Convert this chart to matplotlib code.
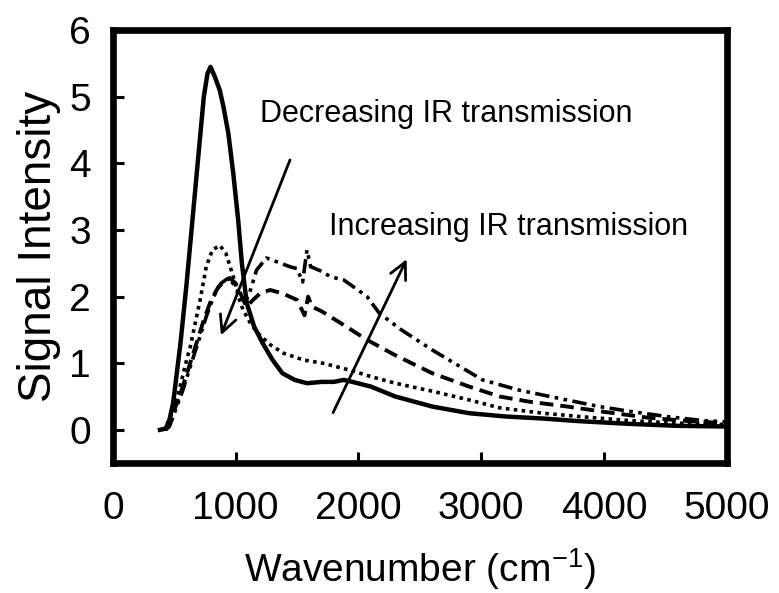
import matplotlib
matplotlib.use("Agg")
import matplotlib.pyplot as plt

plt.rcParams["font.family"] = ["Liberation Sans", "DejaVu Sans"]

# ── 데이터 ──────────────────────────────────────
x_solid = [383, 430, 460, 490, 550, 600, 650, 700, 740, 770, 795, 830, 870, 900, 940,
           980, 1020, 1050, 1090, 1150, 1220, 1300, 1380, 1480, 1580, 1700, 1800, 1880,
           1950, 2100, 2300, 2600, 2900, 3200, 3500, 3800, 4200, 4600, 5000]
y_solid = [0, 0.02, 0.15, 0.4, 1.3, 2.2, 3.2, 4.2, 5.0, 5.35, 5.45, 5.3, 5.1, 4.85, 4.45,
           3.85, 3.15, 2.5, 1.9, 1.55, 1.3, 1.05, 0.85, 0.75, 0.7, 0.72, 0.72, 0.75,
           0.72, 0.65, 0.5, 0.35, 0.25, 0.2, 0.17, 0.13, 0.09, 0.06, 0.05]

x_dot = [400, 430, 470, 520, 560, 600, 630, 670, 710, 760, 810, 870, 920, 980, 1030,
         1060, 1120, 1180, 1280, 1390, 1550, 1710, 1860, 1960, 2100, 2300, 2600, 2900,
         3150, 3500, 3800, 4200, 4600, 5000]
y_dot = [0, 0.03, 0.2, 0.45, 0.75, 1.05, 1.25, 1.6, 1.95, 2.45, 2.7, 2.77, 2.65, 2.3, 1.95,
         1.8, 1.6, 1.45, 1.28, 1.15, 1.05, 1.0, 0.93, 0.88, 0.8, 0.7, 0.58, 0.45,
         0.33, 0.25, 0.2, 0.14, 0.1, 0.08]

x_dash = [420, 450, 500, 560, 620, 680, 740, 800, 860, 950, 1000, 1050, 1090, 1140, 1200,
          1280, 1380, 1500, 1560, 1590, 1620, 1700, 1770, 1900, 2070, 2300, 2600, 2900,
          3150, 3400, 3700, 4000, 4370, 4700, 5000]
y_dash = [0, 0.05, 0.3, 0.6, 0.95, 1.3, 1.65, 1.95, 2.15, 2.28, 2.2, 2.0, 1.85, 1.95, 2.05,
          2.1, 2.05, 1.95, 1.72, 2.0, 1.85, 1.78, 1.7, 1.55, 1.35, 1.12, 0.85, 0.65,
          0.5, 0.42, 0.35, 0.27, 0.18, 0.13, 0.1]

x_dd = [430, 460, 510, 570, 630, 700, 760, 820, 880, 940, 1000, 1075, 1120, 1170, 1250,
        1340, 1440, 1500, 1545, 1580, 1610, 1700, 1770, 1880, 1980, 2070, 2170, 2350,
        2600, 2800, 3010, 3300, 3560, 3960, 4200, 4510, 4800, 5000]
y_dd = [0, 0.05, 0.3, 0.6, 0.95, 1.35, 1.7, 2.0, 2.2, 2.28, 2.15, 1.9, 2.1, 2.4, 2.58,
        2.52, 2.45, 2.42, 2.22, 2.7, 2.45, 2.38, 2.3, 2.25, 2.12, 2.0, 1.75, 1.5,
        1.2, 0.98, 0.75, 0.6, 0.5, 0.35, 0.28, 0.2, 0.14, 0.12]

x_ticks = [0, 1000, 2000, 3000, 4000, 5000]
y_ticks = [0, 1, 2, 3, 4, 5, 6]

# ── 그리기 ─────────────────────────────────────────
fig = plt.figure(figsize=(7.79, 5.93), dpi=100)
ax = fig.add_axes([0.145, 0.219, 0.788, 0.730])

ax.plot(x_solid, y_solid, color="black", lw=3.2, ls="-")
ax.plot(x_dot, y_dot, color="black", lw=2.6, ls=(0, (1, 1.2)))
ax.plot(x_dash, y_dash, color="black", lw=2.8, ls=(0, (3.5, 1.8)))
ax.plot(x_dd, y_dd, color="black", lw=2.6, ls=(0, (4, 1.5, 1, 1.5, 1, 1.5)))

ax.set_xlim(0, 5000)
ax.set_ylim(-0.5, 6)
ax.set_xticks(x_ticks)
ax.set_yticks(y_ticks)

for sp in ax.spines.values():
    sp.set_linewidth(4.8)
ax.tick_params(axis="both", direction="in", length=8, width=2.2, labelsize=28)
ax.tick_params(axis="y", pad=16)
ax.tick_params(axis="x", pad=20)

ax.set_xlabel("Wavenumber (cm$^{\\mathregular{-1}}$)", fontsize=28, labelpad=14)
ax.set_ylabel("Signal Intensity", fontsize=33, labelpad=6)

# 화살표 + 주석
arrow = dict(arrowstyle="->", lw=2.0, color="black", mutation_scale=30)
ax.annotate("", xy=(871, 1.38), xytext=(1450, 4.09), arrowprops=arrow)
ax.annotate("", xy=(2402, 2.6), xytext=(1783, 0.22), arrowprops=arrow)

ax.text(1197, 4.74, "Decreasing IR transmission", fontsize=22, ha="left", va="center")
ax.text(1759, 3.04, "Increasing IR transmission", fontsize=22, ha="left", va="center")

fig.savefig("out.png", dpi=100, facecolor="white")
plt.close(fig)
